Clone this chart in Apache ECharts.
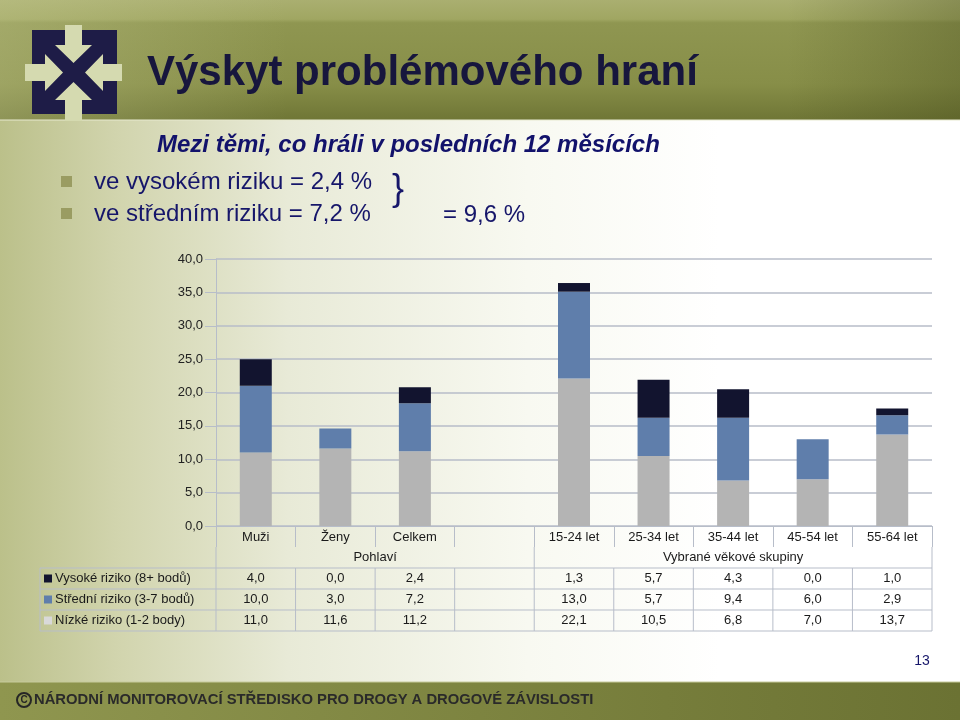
<!DOCTYPE html>
<html>
<head>
<meta charset="utf-8">
<script src="https://cdn.jsdelivr.net/npm/echarts@6/dist/echarts.min.js"></script>
<style>html,body{margin:0;padding:0;background:#fff}#main{width:960px;height:720px}</style>
</head>
<body>
<div id="main"></div>
<script>
// ---- data ----
const categories = ['Muži', 'Ženy', 'Celkem', '', '15-24 let', '25-34 let', '35-44 let', '45-54 let', '55-64 let'];
const groupNames = ['Pohlaví', 'Vybrané věkové skupiny'];
const groupSpans = [[0, 3], [4, 8]];
const seriesNames = ['Vysoké riziko (8+ bodů)', 'Střední riziko (3-7 bodů)', 'Nízké riziko (1-2 body)'];
const vysoke = [4.0, 0.0, 2.4, null, 1.3, 5.7, 4.3, 0.0, 1.0];
const stredni = [10.0, 3.0, 7.2, null, 13.0, 5.7, 9.4, 6.0, 2.9];
const nizke = [11.0, 11.6, 11.2, null, 22.1, 10.5, 6.8, 7.0, 13.7];
const yMin = 0, yMax = 40, yStep = 5;
const titleText = 'Výskyt problémového hraní';
const subtitleText = 'Mezi těmi, co hráli v posledních 12 měsících';
const bulletTexts = ['ve vysokém riziku = 2,4 %', 've středním riziku = 7,2 %'];
const sumText = '= 9,6 %';
const footerText = 'NÁRODNÍ MONITOROVACÍ STŘEDISKO PRO DROGY A DROGOVÉ ZÁVISLOSTI';
const pageNo = '13';

const colors = ['#12142f', '#5f7eab', '#b4b4b4'];
const legendKeyColors = ['#12142f', '#5f7eab', '#d9d9d9'];
const gridColor = '#b7bdc9';
const FONT = '"Liberation Sans", Arial, sans-serif';
const fmt = v => (v == null ? '' : v.toFixed(1).replace('.', ','));

const chart = echarts.init(document.getElementById('main'), null, {renderer: 'canvas'});
const seriesData = [vysoke, stredni, nizke];
const series = [2, 1, 0].map(i => ({
  name: seriesNames[i], type: 'bar', stack: 'total', barWidth: 32,
  data: seriesData[i], itemStyle: {color: colors[i]}, z: 3
}));

chart.setOption({
  animation: false,
  backgroundColor: 'transparent',
  grid: {left: 216, right: 28, top: 259, bottom: 194, containLabel: false},
  xAxis: {
    type: 'category', data: categories,
    axisLine: {show: true, lineStyle: {color: gridColor, width: 1}},
    axisTick: {show: true, length: 21, lineStyle: {color: gridColor}},
    axisLabel: {color: '#1a1a1a', fontSize: 13, fontFamily: FONT, margin: 5, interval: 0}
  },
  yAxis: {
    type: 'value', min: yMin, max: yMax, interval: yStep,
    axisLine: {show: true, lineStyle: {color: gridColor}},
    axisTick: {show: true, length: 11, lineStyle: {color: gridColor}},
    splitLine: {show: true, lineStyle: {color: gridColor, width: 1.5}},
    axisLabel: {color: '#222', fontSize: 13, fontFamily: FONT, margin: 13, formatter: v => fmt(v)}
  },
  series: series
});

// ---- graphics built from the axis scales ----
const c0 = chart.convertToPixel({xAxisIndex: 0}, 0);
const c1 = chart.convertToPixel({xAxisIndex: 0}, 1);
const band = c1 - c0;
const colLeft = i => c0 - band / 2 + i * band;
const yBase = chart.convertToPixel({yAxisIndex: 0}, 0);
const rowH = 21;
const tableLeft = 40;
const tableRight = colLeft(categories.length);
const rowsTop = yBase + 2 * rowH;

const els = [];
// background
els.push({type: 'rect', z: -100, shape: {x: 0, y: 0, width: 960, height: 720}, style: {
  fill: new echarts.graphic.LinearGradient(0, 0, 1, 0, [
    {offset: 0, color: '#bbc08a'}, {offset: 0.12, color: '#d1d4ad'}, {offset: 0.3, color: '#e8ead7'},
    {offset: 0.55, color: '#f8f9f1'}, {offset: 0.75, color: '#ffffff'}, {offset: 1, color: '#ffffff'}])}});
// top banner
els.push({type: 'rect', z: -90, shape: {x: 0, y: 0, width: 960, height: 120}, style: {
  fill: new echarts.graphic.LinearGradient(0, 0, 0, 1, [
    {offset: 0, color: '#aaaf70'}, {offset: 0.16, color: '#a0a662'}, {offset: 0.19, color: '#8f9651'},
    {offset: 0.7, color: '#878e48'}, {offset: 1, color: '#6f7636'}])}});
els.push({type: 'rect', z: -89, shape: {x: 0, y: 0, width: 960, height: 120}, style: {
  fill: new echarts.graphic.LinearGradient(0, 0, 1, 0, [
    {offset: 0, color: 'rgba(200,205,150,0.35)'}, {offset: 0.3, color: 'rgba(200,205,150,0)'},
    {offset: 0.82, color: 'rgba(60,65,20,0)'}, {offset: 1, color: 'rgba(60,65,20,0.3)'}])}});
els.push({type: 'line', z: -88, shape: {x1: 0, y1: 120, x2: 960, y2: 120}, style: {stroke: '#e8ead0', lineWidth: 1}});
// footer band
els.push({type: 'rect', z: -90, shape: {x: 0, y: 682, width: 960, height: 38}, style: {
  fill: new echarts.graphic.LinearGradient(0, 0, 1, 0, [
    {offset: 0, color: '#8f964f'}, {offset: 0.5, color: '#7d8440'}, {offset: 1, color: '#6b7233'}])}});
els.push({type: 'line', z: -88, shape: {x1: 0, y1: 682, x2: 960, y2: 682}, style: {stroke: '#c7cb9c', lineWidth: 1}});

// logo
els.push({type: 'rect', z: 10, shape: {x: 32, y: 30, width: 85, height: 84}, style: {fill: '#1e1c47'}});
const cream = '#d5dab0';
const logoArrows = [
  [[65, 25], [82, 25], [82, 45], [92, 45], [73.5, 63], [55, 45], [65, 45]],
  [[65, 121], [82, 121], [82, 100], [92, 100], [73.5, 82], [55, 100], [65, 100]],
  [[25, 64], [25, 81], [45, 81], [45, 91], [63, 72.5], [45, 54], [45, 64]],
  [[122, 64], [122, 81], [103, 81], [103, 91], [85, 72.5], [103, 54], [103, 64]]
];
logoArrows.forEach(p => els.push({type: 'polygon', z: 11, shape: {points: p}, style: {fill: cream}}));

const txt = (text, x, y, font, fill, align, valign, z) => ({
  type: 'text', z: z || 10,
  style: {text: text, x: x, y: y, font: font, fill: fill, textAlign: align || 'left', align: align || 'left',
    textVerticalAlign: valign || 'middle', verticalAlign: valign || 'middle'}
});
// title & texts
els.push(txt(titleText, 147, 73, 'bold 42px ' + FONT, '#17163d'));
els.push(txt(subtitleText, 157, 145, 'italic bold 24px ' + FONT, '#12126b'));
bulletTexts.forEach((t, i) => {
  const y = 182 + i * 32;
  els.push({type: 'rect', z: 10, shape: {x: 61, y: y - 6, width: 11, height: 11}, style: {fill: '#9a9c62'}});
  els.push(txt(t, 94, y, '24px ' + FONT, '#16166a'));
});
els.push(txt('}', 398, 190, '36px ' + FONT, '#16166a', 'center'));
els.push(txt(sumText, 443, 215, '24px ' + FONT, '#16166a'));
els.push(txt(pageNo, 922, 661, '14px ' + FONT, '#16166a', 'center'));
// footer text
els.push({type: 'circle', z: 10, shape: {cx: 24, cy: 700, r: 7}, style: {fill: 'none', stroke: '#262626', lineWidth: 2}});
els.push(txt('C', 24, 700.5, 'bold 10px ' + FONT, '#262626', 'center'));
els.push(txt(footerText, 34, 700, 'bold 14.8px ' + FONT, '#2a2a2a'));

// table lines
const L = (x1, y1, x2, y2) => els.push({type: 'line', z: 5, shape: {x1: x1, y1: y1, x2: x2, y2: y2}, style: {stroke: gridColor, lineWidth: 1}});
const tableBottom = rowsTop + 3 * rowH;
for (let r = 0; r <= 3; r++) L(tableLeft, rowsTop + r * rowH, tableRight, rowsTop + r * rowH);
L(tableLeft, rowsTop, tableLeft, tableBottom);
for (let i = 0; i <= categories.length; i++) L(colLeft(i), rowsTop, colLeft(i), tableBottom);
// group row borders
const groupEdges = [0, groupSpans[1][0], categories.length];
groupEdges.forEach(i => L(colLeft(i), yBase + rowH, colLeft(i), rowsTop));
// group labels
groupNames.forEach((g, k) => {
  const a = k === 0 ? 0 : groupSpans[1][0];
  const b = k === 0 ? groupSpans[1][0] : categories.length;
  els.push(txt(g, (colLeft(a) + colLeft(b)) / 2, yBase + rowH * 1.5, '13px ' + FONT, '#1a1a1a', 'center'));
});
// legend keys and values
const rowData = [vysoke, stredni, nizke];
rowData.forEach((arr, r) => {
  const cy = rowsTop + r * rowH + rowH / 2;
  els.push({type: 'rect', z: 6, shape: {x: 44, y: cy - 4, width: 8, height: 8}, style: {fill: legendKeyColors[r]}});
  els.push(txt(seriesNames[r], 55, cy, '13px ' + FONT, '#1a1a1a'));
  arr.forEach((v, i) => {
    if (v == null) return;
    els.push(txt(fmt(v), colLeft(i) + band / 2, cy, '13px ' + FONT, '#1a1a1a', 'center'));
  });
});

chart.setOption({graphic: {elements: els}});
</script>
</body>
</html>
